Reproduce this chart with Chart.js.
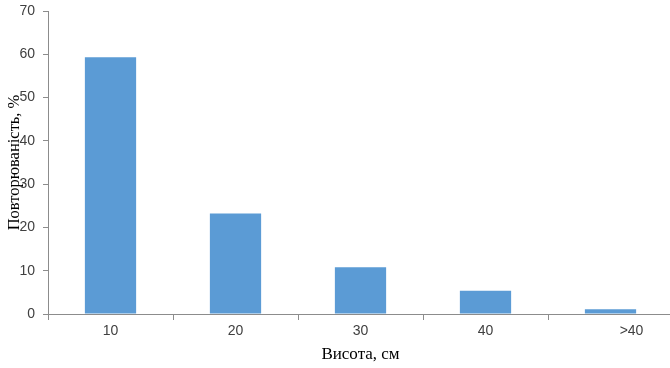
<!DOCTYPE html>
<html>
<head>
<meta charset="utf-8">
<script src="https://cdn.jsdelivr.net/npm/chart.js@4/dist/chart.umd.min.js"></script>
<style>
  html,body{margin:0;padding:0;background:#fff;overflow:hidden;}
  #wrap{width:673px;height:368px;position:relative;}
</style>
</head>
<body>
<div id="wrap"><canvas id="myChart"></canvas></div>
<script>
const heights = ['10', '20', '30', '40', '>40']
const frequency = [59.3, 23.2, 10.8, 5.4, 1.1]
const yTicks = [0, 10, 20, 30, 40, 50, 60, 70]

const axisColor = '#8c8c8c'
const labelColor = '#404040'

new Chart('myChart', {
  type: 'bar',
  data: {
    labels: heights,
    datasets: [{
      data: frequency,
      backgroundColor: '#5b9bd5',
      borderWidth: 0,
      categoryPercentage: 1,
      barPercentage: 0.41
    }]
  },
  options: {
    responsive: true,
    maintainAspectRatio: false,
    animation: false,
    layout: {padding: {top: 11, right: 0, left: 0, bottom: 0}},
    plugins: {legend: {display: false}, tooltip: {enabled: false}},
    scales: {
      x: {
        offset: true,
        grid: {display: true, offset: true, drawOnChartArea: false, color: axisColor, tickLength: 6},
        border: {color: axisColor, width: 1},
        ticks: {
          color: labelColor,
          font: {family: 'Liberation Sans', size: 14},
          padding: 3,
          maxRotation: 0,
          // the last label sits right of its bar in the original
          callback: (v, i) => i === heights.length - 1 ? '\u2003\u2003\u2003' + heights[i] : heights[i]
        },
        title: {
          display: true,
          text: 'Висота, см',
          color: '#000',
          font: {family: 'Liberation Serif', size: 17},
          padding: {top: 0, bottom: 3}
        },
        afterFit: s => { s.height = 54 }
      },
      y: {
        min: 0,
        max: 70,
        afterBuildTicks: s => { s.ticks = yTicks.map(v => ({value: v})) },
        grid: {display: true, drawOnChartArea: false, color: axisColor, tickLength: 5},
        border: {color: axisColor, width: 1},
        ticks: {color: labelColor, font: {family: 'Liberation Sans', size: 14, lineHeight: 0.4}, padding: 8},
        title: {
          display: true,
          text: 'Повторюваність, %',
          color: '#000',
          font: {family: 'Liberation Serif', size: 16.5},
          padding: {top: 5, bottom: 0}
        },
        afterFit: s => { s.width = 48 }
      }
    }
  }
})
</script>
</body>
</html>
